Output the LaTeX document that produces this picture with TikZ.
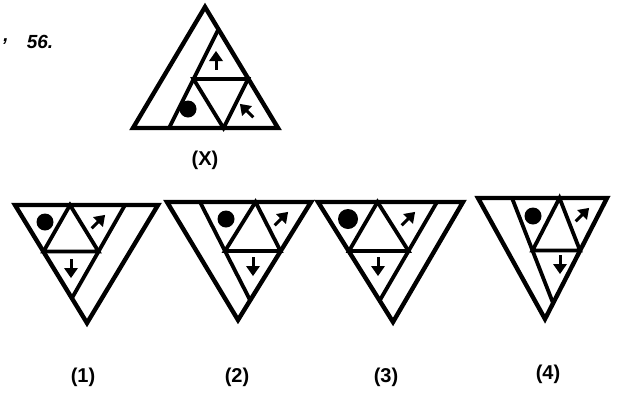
\documentclass[tikz,border=0pt]{standalone}
\usepackage{fontspec}
\setmainfont{Liberation Sans}
\tikzset{
  outer/.style={line width=4.4pt, line join=miter},
  inner/.style={line width=3.8pt, line join=miter},
  lab/.style={font=\fontsize{20}{24}\selectfont\bfseries, inner sep=0pt},
}
\newcommand\symarrow[3]{\begin{scope}[shift={(#1,#2)},rotate=#3]
  \fill (0,-10)--(-7,0)--(7,0)--cycle;
  \draw[line width=3pt] (0,-2)--(0,9);
\end{scope}}
\newcommand\symdot[3]{\fill (#1,#2) circle[radius=#3];}
\begin{document}
\begin{tikzpicture}[x=1pt,y=-1pt]
\useasboundingbox[fill=white] (0,0) rectangle (620,394);

% ---- Figure X
\draw[outer] (205,7)--(133,128)--(278,128)--cycle;
\draw[inner] (218,30)--(169,128);
\draw[inner] (193.5,79)--(248,79)--(223.5,128)--cycle;
\symarrow{216}{61}{0}
\symdot{188}{109}{8.5}
\symarrow{247}{111}{45}
\node[lab] (lx) at (205,160) {(X)};
\node[lab, font=\fontsize{19}{22}\selectfont\bfseries\itshape] (qn) at (40,42) {56.};
\node[lab, font=\fontsize{19}{22}\selectfont\bfseries\itshape] (cm) at (6,42) {,};

% ---- Option 1
\draw[outer] (15,205)--(158,205)--(87,323)--cycle;
\draw[inner] (125,205)--(72,298);
\draw[inner] (70,205)--(43.5,251.5)--(98.5,251.5)--cycle;
\symdot{45}{222}{8.5}
\symarrow{98}{222}{-45}
\symarrow{71}{268}{180}
\node[lab] (l1) at (83,377) {(1)};

% ---- Option 2
\draw[outer] (167,202)--(311,202)--(238,320)--cycle;
\draw[inner] (200,202)--(250,300);
\draw[inner] (255.5,202)--(225,251)--(280.5,251)--cycle;
\symdot{226}{219}{8.5}
\symarrow{281}{219}{-45}
\symarrow{253}{266}{180}
\node[lab] (l2) at (237,377) {(2)};

% ---- Option 3
\draw[outer] (318,202)--(463,202)--(393,322)--cycle;
\draw[inner] (437,202)--(380,300);
\draw[inner] (377.5,202)--(349,251)--(408.5,251)--cycle;
\symdot{348}{219}{10}
\symarrow{408}{219}{-45}
\symarrow{378}{266}{180}
\node[lab] (l3) at (386,377) {(3)};

% ---- Option 4
\draw[outer] (478,198)--(607,198)--(545,319)--cycle;
\draw[inner] (512,198)--(553,303);
\draw[inner] (559.5,198)--(532.5,250.5)--(580,250.5)--cycle;
\symdot{533}{216}{8.5}
\symarrow{582}{215}{-45}
\symarrow{560}{264}{180}
\node[lab] (l4) at (548,374) {(4)};
\end{tikzpicture}
\end{document}
